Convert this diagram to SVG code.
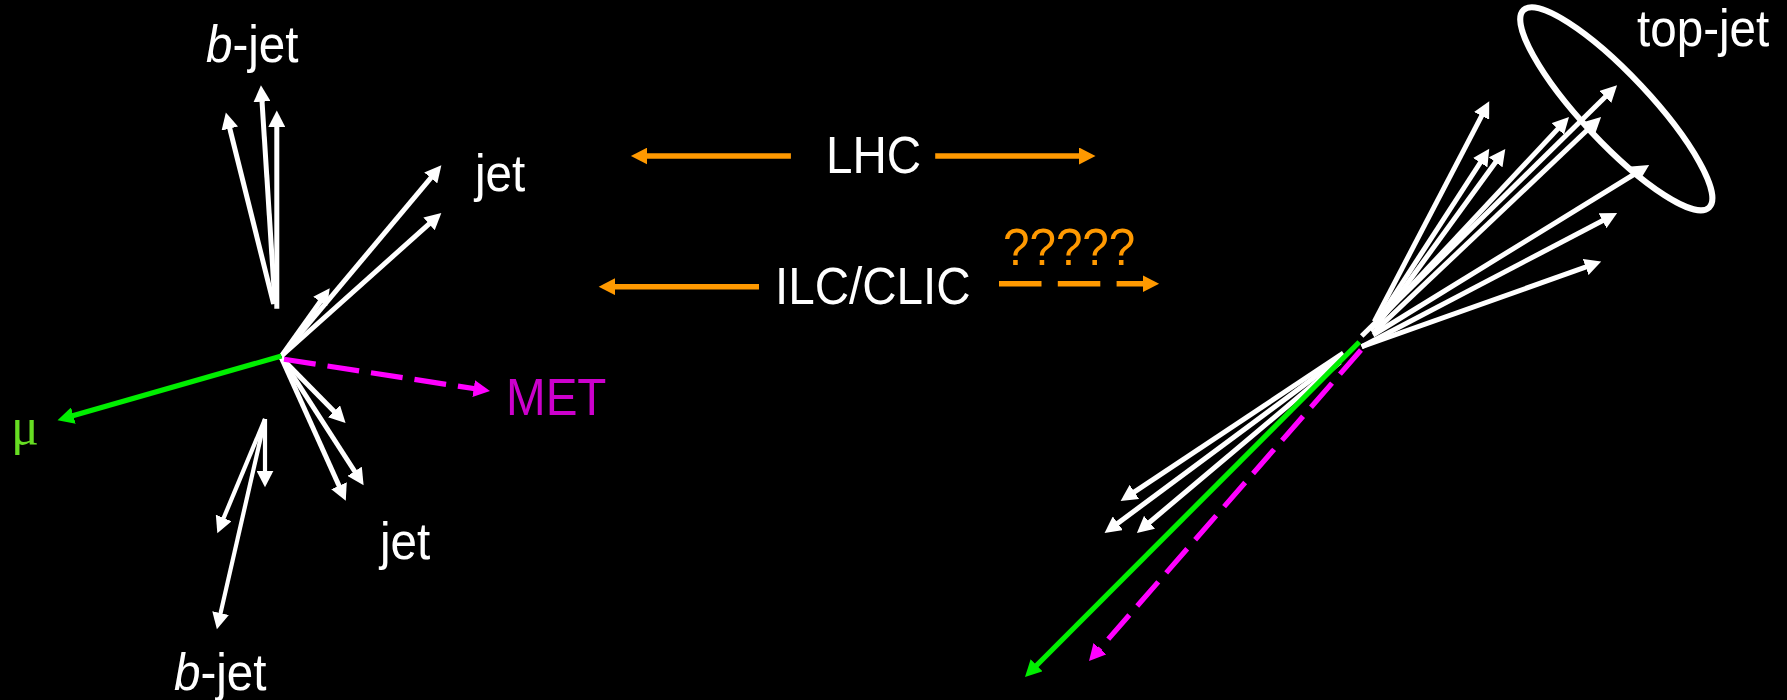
<svg xmlns="http://www.w3.org/2000/svg" width="1787" height="700" viewBox="0 0 1787 700">
  <style>
    text { font-family: "Liberation Sans", Arial, sans-serif; font-size: 52px; fill: #fff; }
    .w { stroke: #fff; stroke-width: 5; fill: none; marker-end: url(#hw); }
    .t { stroke-width: 4.2; }
    .g { stroke: #00ee00; stroke-width: 5.2; fill: none; marker-end: url(#hg); }
    .m { stroke: #ff00ff; stroke-width: 5.2; fill: none; stroke-dasharray: 32 12; marker-end: url(#hm); }
    .o { stroke: #ff9900; stroke-width: 5.5; fill: none; marker-end: url(#ho); }
    .od { stroke-dasharray: 42.5 16.3; }
  </style>
  <defs>
    <marker id="hw" markerUnits="userSpaceOnUse" markerWidth="17" markerHeight="17" refX="8" refY="8.5" orient="auto"><path d="M0,0L16.5,8.5L0,17z" fill="#fff"/></marker>
    <marker id="hg" markerUnits="userSpaceOnUse" markerWidth="17" markerHeight="17" refX="8" refY="8.5" orient="auto"><path d="M0,0L16.5,8.5L0,17z" fill="#00ee00"/></marker>
    <marker id="hm" markerUnits="userSpaceOnUse" markerWidth="17" markerHeight="17" refX="8" refY="8.5" orient="auto"><path d="M0,0L16.5,8.5L0,17z" fill="#ff00ff"/></marker>
    <marker id="ho" markerUnits="userSpaceOnUse" markerWidth="17" markerHeight="17" refX="8" refY="8.5" orient="auto"><path d="M0,0L16.5,8.5L0,17z" fill="#ff9900"/></marker>
  </defs>
  <rect width="1787" height="700" fill="#000"/>

  <g id="connectors">
    <!-- left event: b-jets -->
    <path class="w" d="M273.6,304L227.9,120.8"/>
    <path class="w" d="M275,304L261.5,93.7"/>
    <path class="w" d="M276.8,308.7V119"/>
    <path class="w t" d="M265,419V478.7"/>
    <path class="w t" d="M265,419L220.6,525.3"/>
    <path class="w t" d="M265,419L218.8,620.9"/>
    <!-- left event: light jets -->
    <path class="w" d="M281.5,356L435.9,171.8"/>
    <path class="w" d="M281.5,356L435,218.6"/>
    <path class="w" d="M281.5,356L324.8,295.2"/>
    <path class="w" d="M281.5,358L339.6,417"/>
    <path class="w" d="M281.5,358L359,478"/>
    <path class="w" d="M281.5,358L342.3,493"/>
    <!-- left event: muon and missing energy -->
    <path class="g" d="M281.5,356L65.7,417.8"/>
    <path class="m" d="M284,359.3L481.6,389.8"/>

    <!-- centre: collider reach -->
    <path class="o" d="M790.9,156H639.4"/>
    <path class="o" d="M935.2,156H1087"/>
    <path class="o" d="M759,286.7H607.2"/>
    <path class="o od" d="M999,283.7H1150.6"/>

    <!-- right event: boosted top decay products -->
    <path class="w" d="M1374.3,321.7L1485.3,108.8"/>
    <path class="w" d="M1375,325L1484.6,156"/>
    <path class="w" d="M1375,328L1500.3,155.8"/>
    <path class="w" d="M1361.7,336L1611,91.3"/>
    <path class="w" d="M1370,330L1563.2,123.1"/>
    <path class="w" d="M1373,333L1594.9,122.8"/>
    <path class="w" d="M1373,335L1641.9,169.5"/>
    <path class="w" d="M1361.7,346.7L1609.6,217"/>
    <path class="w" d="M1361.7,346.7L1593.2,264.4"/>
    <!-- right event: recoiling system -->
    <path class="w" d="M1343.3,353L1127.7,496.3"/>
    <path class="w" d="M1343.3,356L1111.4,528"/>
    <path class="w" d="M1340,362L1143.4,527.5"/>
    <path class="g" d="M1359.3,342L1031,671"/>
    <path class="m" d="M1361,350L1094.6,654.7"/>
  </g>

  <g id="top-jet-cone">
    <ellipse cx="1616.3" cy="108.8" rx="135.5" ry="34" transform="rotate(46.8 1616.3 108.8)" fill="none" stroke="#fff" stroke-width="6"/>
  </g>

  <g id="label-b-jet-upper"><text transform="translate(206 62) scale(.915 1)"><tspan font-style="italic">b</tspan>-jet</text></g>
  <g id="label-jet-upper"><text transform="translate(475 191) scale(.915 1)">jet</text></g>
  <g id="label-mu"><text x="11" y="444" style="font-family:'Liberation Serif',serif;font-size:52px;fill:#66dd22">μ</text></g>
  <g id="label-met"><text transform="translate(506 415) scale(.915 1)" style="fill:#cc00cc">MET</text></g>
  <g id="label-jet-lower"><text transform="translate(380 559) scale(.915 1)">jet</text></g>
  <g id="label-b-jet-lower"><text transform="translate(174 690) scale(.915 1)"><tspan font-style="italic">b</tspan>-jet</text></g>
  <g id="label-lhc"><text transform="translate(826 173) scale(.915 1)">LHC</text></g>
  <g id="label-ilc-clic"><text transform="translate(775 304) scale(.915 1)">ILC/CLIC</text></g>
  <g id="label-question"><text transform="translate(1003 265) scale(.915 1)" style="fill:#ff9900">?????</text></g>
  <g id="label-top-jet"><text transform="translate(1637 46) scale(.915 1)">top-jet</text></g>
</svg>
